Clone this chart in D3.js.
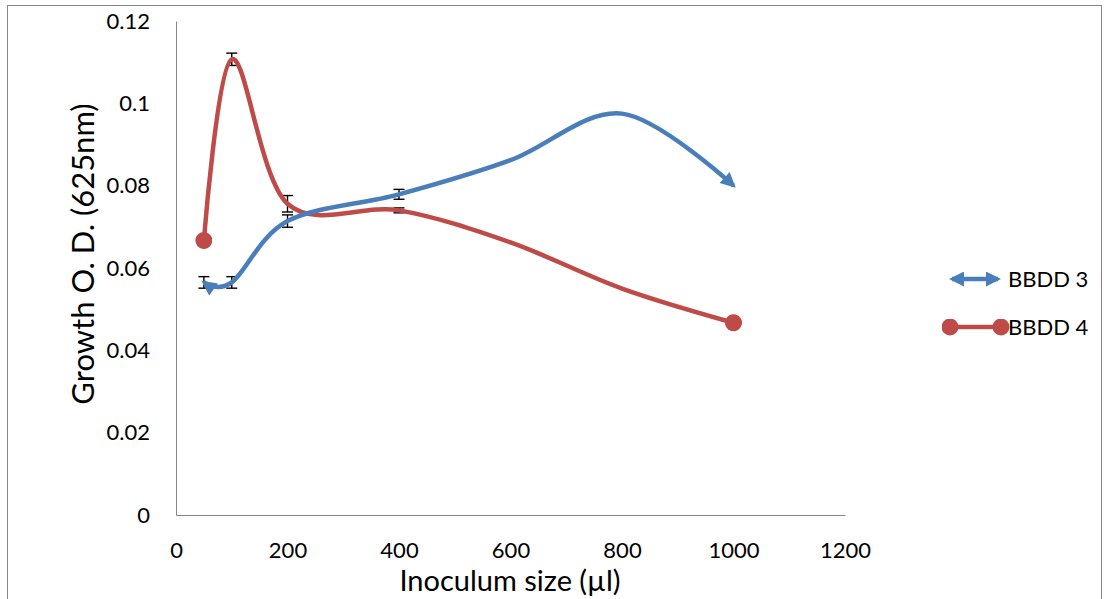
<!DOCTYPE html>
<html>
<head>
<meta charset="utf-8">
<script src="https://cdn.jsdelivr.net/npm/d3@7"></script>
<style>
    body { margin: 0; background: #fff; }
    svg { display: block; font-family: Lato, "Open Sans", sans-serif; }
    .axis path { stroke: #868686; stroke-width: 1; }
    .axis line { display: none; }
</style>
</head>
<body>
<svg id="chart" width="1104" height="599"></svg>
<script>
// Рост в зависимости от объёма инокулята
var xValues = [50, 100, 200, 400, 600, 800, 1000];
var bbdd3 = [0.0565, 0.0565, 0.0714, 0.0779, 0.0862, 0.0975, 0.0800];
var bbdd3Err = [0.0014, 0.0014, 0.0015, 0.0012, 0, 0, 0];
var bbdd4 = [0.0667, 0.1107, 0.0756, 0.0740, 0.0662, 0.0550, 0.0467];
var bbdd4Err = [0, 0.0015, 0.0020, 0.0006, 0, 0, 0];

var xTicks = [0, 200, 400, 600, 800, 1000, 1200];
var xTickLabels = ["0", "200", "400", "600", "800", "1000", "1200"];
var yTicks = [0, 0.02, 0.04, 0.06, 0.08, 0.1, 0.12];
var yTickLabels = ["0", "0.02", "0.04", "0.06", "0.08", "0.1", "0.12"];

var seriesNames = ["BBDD 3", "BBDD 4"];
var BLUE = "#4a7ebb", RED = "#be4b48";

var svg = d3.select("#chart");

// рамка области диаграммы
svg.append("rect")
    .attr("x", 7.5).attr("y", 5.5)
    .attr("width", 1094).attr("height", 620)
    .attr("fill", "none").attr("stroke", "#868686");

var x = d3.scaleLinear().domain([0, 1200]).range([176, 845]);
var y = d3.scaleLinear().domain([0, 0.12]).range([515, 21]);

var defs = svg.append("defs");

function arrowMarker(id, color) {
    defs.append("marker")
        .attr("id", id)
        .attr("viewBox", "0 0 10 10")
        .attr("refX", 8).attr("refY", 5)
        .attr("markerUnits", "userSpaceOnUse")
        .attr("markerWidth", 16).attr("markerHeight", 15)
        .attr("orient", "auto-start-reverse")
        .append("path")
            .attr("d", "M0,0 L10,5 L0,10 z")
            .attr("fill", color);
}
function dotMarker(id, color) {
    defs.append("marker")
        .attr("id", id)
        .attr("viewBox", "-5 -5 10 10")
        .attr("refX", 0).attr("refY", 0)
        .attr("markerUnits", "userSpaceOnUse")
        .attr("markerWidth", 17).attr("markerHeight", 17)
        .attr("orient", "auto")
        .append("circle")
            .attr("r", 5)
            .attr("fill", color);
}
arrowMarker("arrow-blue", BLUE);
dotMarker("dot-red", RED);

// оси
var yAxis = svg.append("g")
    .attr("class", "axis")
    .attr("transform", "translate(" + x(0) + ",0)")
    .call(d3.axisLeft(y).tickValues(yTicks).tickSize(0).tickSizeOuter(0).tickPadding(26)
        .tickFormat(function(d, i) { return yTickLabels[i]; }));

var xAxis = svg.append("g")
    .attr("class", "axis")
    .attr("transform", "translate(0," + y(0) + ")")
    .call(d3.axisBottom(x).tickValues(xTicks).tickSize(0).tickSizeOuter(0).tickPadding(27)
        .tickFormat(function(d, i) { return xTickLabels[i]; }));

[yAxis, xAxis].forEach(function(ax) {
    ax.attr("font-family", null).attr("font-size", 22);
    ax.selectAll("text").attr("fill", "#000");
});

// подписи осей
svg.append("text")
    .attr("transform", "translate(94,254) rotate(-90)")
    .attr("text-anchor", "middle")
    .attr("font-size", 31)
    .text("Growth O. D. (625nm)");

svg.append("text")
    .attr("x", 510).attr("y", 591)
    .attr("text-anchor", "middle")
    .attr("font-size", 29)
    .text("Inoculum size (µl)");

// погрешности (под линиями)
function errorBars(vals, errs) {
    var g = svg.append("g").attr("stroke", "#000").attr("stroke-width", 1.4);
    xValues.forEach(function(xv, i) {
        if (!errs[i]) return;
        var cx = x(xv), y1 = y(vals[i] + errs[i]), y2 = y(vals[i] - errs[i]);
        g.append("line").attr("x1", cx).attr("x2", cx).attr("y1", y1).attr("y2", y2);
        g.append("line").attr("x1", cx - 5.5).attr("x2", cx + 5.5).attr("y1", y1).attr("y2", y1);
        g.append("line").attr("x1", cx - 5.5).attr("x2", cx + 5.5).attr("y1", y2).attr("y2", y2);
    });
}
errorBars(bbdd3, bbdd3Err);
errorBars(bbdd4, bbdd4Err);

var line = d3.line()
    .x(function(d) { return x(d[0]); })
    .y(function(d) { return y(d[1]); })
    .curve(d3.curveCardinal.tension(0));

svg.append("path")
    .datum(d3.zip(xValues, bbdd4))
    .attr("d", line)
    .attr("fill", "none")
    .attr("stroke", RED).attr("stroke-width", 4.5)
    .attr("marker-start", "url(#dot-red)")
    .attr("marker-end", "url(#dot-red)");

svg.append("path")
    .datum(d3.zip(xValues, bbdd3))
    .attr("d", line)
    .attr("fill", "none")
    .attr("stroke", BLUE).attr("stroke-width", 4.5)
    .attr("marker-start", "url(#arrow-blue)")
    .attr("marker-end", "url(#arrow-blue)");

// легенда
var legend = svg.append("g");
var legendY = [279, 327];
legend.append("line")
    .attr("x1", 952).attr("x2", 998).attr("y1", legendY[0]).attr("y2", legendY[0])
    .attr("stroke", BLUE).attr("stroke-width", 4.5)
    .attr("marker-start", "url(#arrow-blue)")
    .attr("marker-end", "url(#arrow-blue)");
legend.append("line")
    .attr("x1", 950).attr("x2", 1001).attr("y1", legendY[1]).attr("y2", legendY[1])
    .attr("stroke", RED).attr("stroke-width", 4.5)
    .attr("marker-start", "url(#dot-red)")
    .attr("marker-end", "url(#dot-red)");
seriesNames.forEach(function(name, i) {
    legend.append("text")
        .attr("x", 1008).attr("y", legendY[i] + 8)
        .attr("font-size", 22)
        .text(name);
});
</script>
</body>
</html>
